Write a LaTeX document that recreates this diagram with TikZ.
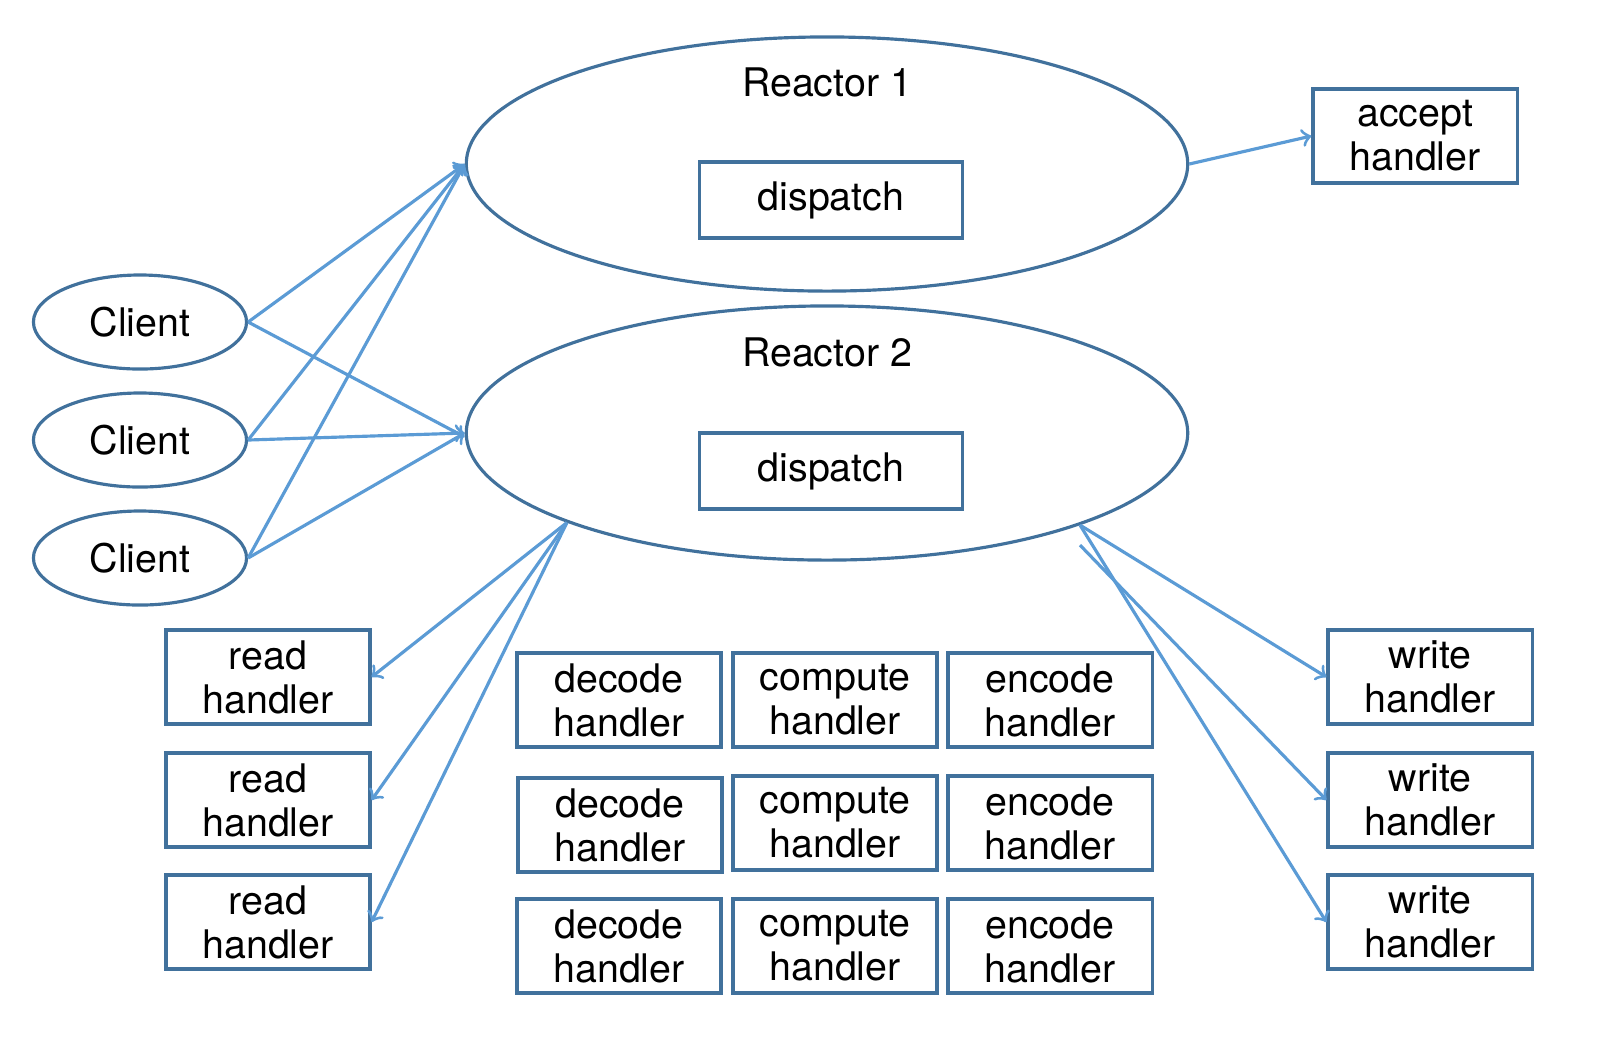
\documentclass[tikz,border=0pt]{standalone}
\usepackage{fontspec}
\setmainfont{TeX Gyre Heros}
\usepackage{tikz}
\usetikzlibrary{shapes.geometric, arrows, positioning}
\definecolor{edgeBlue}{HTML}{41719C}
\definecolor{arrowBlue}{HTML}{5B9BD5}
\tikzstyle{reactor} = [ellipse, draw=edgeBlue, line width=0.9pt, minimum width=7.21cm, minimum height=2.54cm, inner sep=0pt]
\tikzstyle{client} = [ellipse, draw=edgeBlue, line width=0.9pt, minimum width=2.13cm, minimum height=0.94cm, inner sep=0pt]
\tikzstyle{dispatchBox} = [rectangle, draw=edgeBlue, line width=0.9pt, minimum width=2.63cm, minimum height=0.76cm, inner sep=0pt]
\tikzstyle{handler} = [rectangle, draw=edgeBlue, line width=0.9pt, minimum width=2.04cm, minimum height=0.94cm, inner sep=0pt, align=center]
\tikzstyle{arrow} = [draw=arrowBlue, line width=0.9pt, ->, >=to]

\begin{document}
\begin{tikzpicture}[x=0.01cm, y=-0.01cm, font=\fontsize{11.2}{12.5}\selectfont]
\useasboundingbox (0,0) rectangle (1604,1038);
% reactors
\node (r1) [reactor] at (827,164) {};
\node (r1label) at (827,82) {Reactor 1};
\node (d1) [dispatchBox] at (831,200) {dispatch};
\node (r2) [reactor] at (827,433) {};
\node (r2label) at (827,352) {Reactor 2};
\node (d2) [dispatchBox] at (831,471) {dispatch};
\node (acc) [handler] at (1415,136) {accept\\handler};
% clients
\node (c1) [client] at (140,322) {Client};
\node (c2) [client] at (140,440) {Client};
\node (c3) [client] at (140,558) {Client};
% handlers
\node (rd1) [handler] at (268,677) {read\\handler};
\node (rd2) [handler] at (268,800) {read\\handler};
\node (rd3) [handler] at (268,922) {read\\handler};
\node (dec1) [handler] at (619,700) {decode\\handler};
\node (dec2) [handler] at (620,825) {decode\\handler};
\node (dec3) [handler] at (619,946) {decode\\handler};
\node (cmp1) [handler] at (835,700) {compute\\handler};
\node (cmp2) [handler] at (835,823) {compute\\handler};
\node (cmp3) [handler] at (835,946) {compute\\handler};
\node (enc1) [handler] at (1050,700) {encode\\handler};
\node (enc2) [handler] at (1050,823) {encode\\handler};
\node (enc3) [handler] at (1050,946) {encode\\handler};
\node (wr1) [handler] at (1430,677) {write\\handler};
\node (wr2) [handler] at (1430,800) {write\\handler};
\node (wr3) [handler] at (1430,922) {write\\handler};
% connections
\draw [arrow] (c1.east) -- (r1.west);
\draw [arrow] (c1.east) -- ([yshift=-0.04cm]r2.west);
\draw [arrow] (c2.east) -- (r1.west);
\draw [arrow] (c2.east) -- (r2.west);
\draw [arrow] (c3.east) -- (r1.west);
\draw [arrow] (c3.east) -- (r2.west);
\draw [arrow] (r1.east) -- (acc.west);
\draw [arrow] (r2.199.4) -- (rd1.east);
\draw [arrow] (r2.199.4) -- (rd2.east);
\draw [arrow] (r2.199.4) -- (rd3.east);
\coordinate (w2start) at ([yshift=-0.2cm]r2.340.8);
\draw [arrow] (r2.340.8) -- (wr1.west);
\draw [arrow] (w2start) -- (wr2.west);
\draw [arrow] (r2.340.8) -- (wr3.west);
\end{tikzpicture}
\end{document}
